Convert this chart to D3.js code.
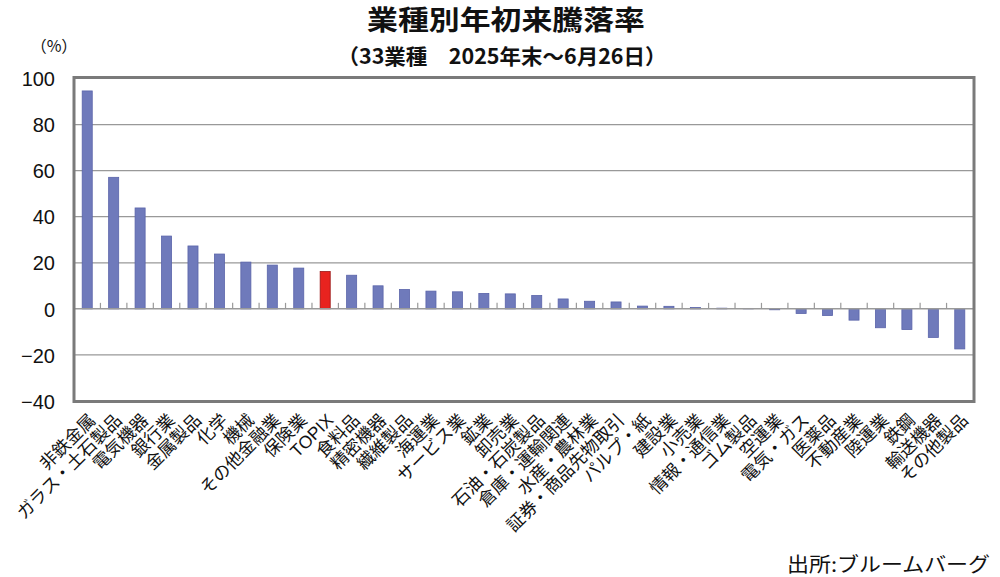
<!DOCTYPE html>
<html><head><meta charset="utf-8">
<script src="https://cdn.jsdelivr.net/npm/d3@7"></script>
<style>
html,body{margin:0;padding:0;background:#fff;}
svg{display:block;}
</style>
</head><body>
<svg id="chart" width="1000" height="577"></svg>
<script>
const categories = ["非鉄金属","ガラス・土石製品","電気機器","銀行業","金属製品","化学","機械","その他金融業","保険業","TOPIX","食料品","精密機器","繊維製品","海運業","サービス業","鉱業","卸売業","石油・石炭製品","倉庫・運輸関連","水産・農林業","証券・商品先物取引","パルプ・紙","建設業","小売業","情報・通信業","ゴム製品","空運業","電気・ガス","医薬品","不動産業","陸運業","鉄鋼","輸送機器","その他製品"];
const values = [94.6,57.1,43.8,31.6,27.3,23.8,20.3,19.0,17.7,16.2,14.6,10.0,8.4,7.7,7.4,6.7,6.5,5.8,4.3,3.3,3.0,1.2,1.1,0.6,0.3,0.2,-0.4,-2.0,-2.9,-4.9,-8.2,-9.0,-12.4,-17.4];
const highlight = ["TOPIX"];
const yTicks = [100,80,60,40,20,0,-20,-40];
const gridTicks = [80,60,40,20,-20];
const title = "業種別年初来騰落率";
const subtitle = "（33業種　2025年末～6月26日）";
const unitLabel = "（%）";
const sourceLabel = "出所:ブルームバーグ";

const svg = d3.select("#chart");
const L = 74, R = 973, T = 78.5, B = 401;
const x = d3.scaleBand().domain(categories).range([L, R]).paddingInner(0.62).paddingOuter(0.31);
const y = d3.scaleLinear().domain([-40, 100]).range([B, T]);
const jp = "'Liberation Sans','Noto Sans CJK JP',sans-serif";

// title
svg.append("text").attr("x", 506).attr("y", 30).attr("text-anchor", "middle")
  .attr("font-family", "'Noto Sans CJK JP',sans-serif").attr("font-weight", 700)
  .attr("font-size", 27).attr("textLength", 278).attr("lengthAdjust", "spacingAndGlyphs")
  .attr("fill", "#111").text(title);
svg.append("text").attr("x", 502).attr("y", 64).attr("text-anchor", "middle")
  .attr("font-family", "'Noto Sans CJK JP',sans-serif").attr("font-weight", 700)
  .attr("font-size", 21).attr("textLength", 329).attr("lengthAdjust", "spacingAndGlyphs")
  .attr("fill", "#111").text(subtitle);
svg.append("text").attr("x", 54).attr("y", 52).attr("text-anchor", "middle")
  .attr("font-family", "'Noto Sans CJK JP',sans-serif").attr("font-size", 16)
  .attr("fill", "#111").text(unitLabel);

// grid
svg.append("g").selectAll("line").data(gridTicks).join("line")
  .attr("x1", L).attr("x2", R).attr("y1", d => y(d)).attr("y2", d => y(d))
  .attr("stroke", "#999").attr("stroke-width", 1.2);

// y axis labels
const yAxis = d3.axisLeft(y).tickValues(yTicks).tickSize(0).tickPadding(0);
const yg = svg.append("g").attr("transform", `translate(55,0)`).call(yAxis);
yg.select(".domain").remove();
yg.selectAll("text").attr("font-family", "'Liberation Sans',Arial,sans-serif")
  .attr("font-size", 20).attr("fill", "#111").attr("dy", "0.36em").attr("x", 0);

// bars
svg.append("g").selectAll("rect").data(values).join("rect")
  .attr("x", (d, i) => x(categories[i]))
  .attr("width", x.bandwidth())
  .attr("y", d => y(Math.max(0, d)))
  .attr("height", d => Math.abs(y(d) - y(0)))
  .attr("fill", (d, i) => highlight.includes(categories[i]) ? "#e8231f" : "#6f7abb")
  .attr("stroke", (d, i) => highlight.includes(categories[i]) ? "#9b1414" : "#5a64aa")
  .attr("stroke-width", 0.8);

// zero line
svg.append("line").attr("x1", L).attr("x2", R).attr("y1", y(0)).attr("y2", y(0))
  .attr("stroke", "#9a9a9a").attr("stroke-width", 1.5);
// ticks at band boundaries
const gap = (x.step() - x.bandwidth()) / 2;
svg.append("g").selectAll("line").data(categories.slice(1)).join("line")
  .attr("x1", d => x(d) - gap).attr("x2", d => x(d) - gap)
  .attr("y1", y(0)).attr("y2", y(0) - 6)
  .attr("stroke", "#9a9a9a").attr("stroke-width", 1.2);

// frame
svg.append("rect").attr("x", L).attr("y", T - 1).attr("width", R - L + 1).attr("height", B - T + 1.5)
  .attr("fill", "none").attr("stroke", "#7a7a7a").attr("stroke-width", 3);

// x labels
svg.append("g").selectAll("text").data(categories).join("text")
  .attr("transform", d => `translate(${x(d) + x.bandwidth() / 2 + 5},${417}) rotate(-45)`)
  .attr("text-anchor", "end").attr("dy", "0.35em")
  .attr("font-family", jp).attr("font-size", 17.5).attr("fill", "#111")
  .text(d => d);

// source
svg.append("text").attr("x", 990).attr("y", 572).attr("text-anchor", "end")
  .attr("font-family", "'Noto Sans CJK JP',sans-serif").attr("font-size", 20)
  .attr("textLength", 203).attr("lengthAdjust", "spacingAndGlyphs")
  .attr("fill", "#111").text(sourceLabel);
</script>
</body></html>
